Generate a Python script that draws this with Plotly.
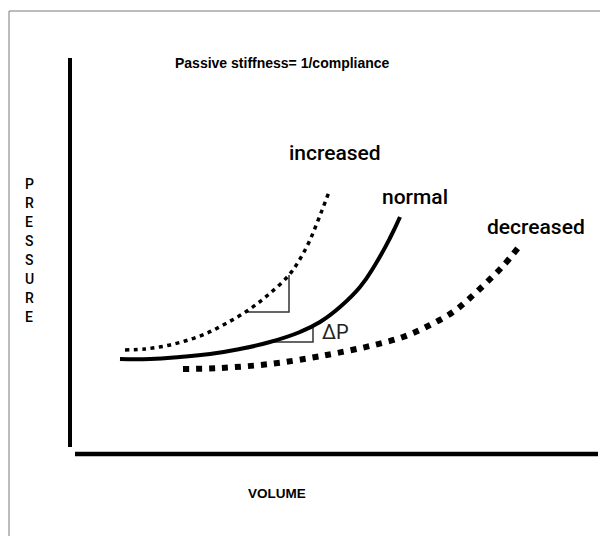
import plotly.graph_objects as go

# Curves: volume (x) and pressure (y), arbitrary units
normal_v = [120, 150, 180, 210, 240, 270, 300, 320, 340, 360, 375, 390, 400]
normal_p = [177, 177, 179, 182, 187, 194, 204, 214, 229, 249, 271, 298, 319]

increased_v = [125, 145, 165, 185, 205, 225, 247, 268, 289, 300, 310, 319, 329]
increased_p = [186, 187, 190, 195, 202, 212, 225, 241, 261, 277, 296, 318, 344]

decreased_v = [183, 220, 270, 310, 337, 370, 403, 430, 453, 470, 487, 503, 518]
decreased_p = [167, 168, 172, 178, 183, 190, 199, 211, 224, 238, 254, 270, 288]

# slope triangles
tri_inc_v = [247, 289, 289]
tri_inc_p = [224, 224, 261]
tri_norm_v = [270, 313, 313]
tri_norm_p = [194, 194, 212]

# drawn axes
yaxis_line_v = [70, 70]
yaxis_line_p = [478, 89]
xaxis_line_v = [75, 598]
xaxis_line_p = [82, 82]

# frame
frame_v = [9, 9, 608]
frame_p = [0, 525, 525]

curve_labels = ["increased", "normal", "decreased"]
curve_label_v = [335, 415, 536]
curve_label_p = [383, 339, 309]

title_text = "Passive stiffness= 1/compliance"
x_title = "VOLUME"
y_title = "PRESSURE"

fig = go.Figure()

fig.add_trace(go.Scatter(x=frame_v, y=frame_p, mode="lines",
                         line=dict(color="#7a7a7a", width=1), hoverinfo="skip"))
fig.add_trace(go.Scatter(x=yaxis_line_v, y=yaxis_line_p, mode="lines",
                         line=dict(color="black", width=4), hoverinfo="skip"))
fig.add_trace(go.Scatter(x=xaxis_line_v, y=xaxis_line_p, mode="lines",
                         line=dict(color="black", width=4.5), hoverinfo="skip"))

fig.add_trace(go.Scatter(x=tri_inc_v, y=tri_inc_p, mode="lines",
                         line=dict(color="#333333", width=1.5), hoverinfo="skip"))
fig.add_trace(go.Scatter(x=tri_norm_v, y=tri_norm_p, mode="lines",
                         line=dict(color="#333333", width=1.5), hoverinfo="skip"))

fig.add_trace(go.Scatter(x=normal_v, y=normal_p, mode="lines", name="normal",
                         line=dict(color="black", width=4, shape="spline", smoothing=1.3)))
fig.add_trace(go.Scatter(x=increased_v, y=increased_p, mode="lines", name="increased",
                         line=dict(color="black", width=3.5, shape="spline", dash="4px,4.5px")))
fig.add_trace(go.Scatter(x=decreased_v, y=decreased_p, mode="lines", name="decreased",
                         line=dict(color="black", width=6, shape="spline", dash="6px,7px")))

for txt, vx, py in zip(curve_labels, curve_label_v, curve_label_p):
    fig.add_annotation(x=vx, y=py, text=txt, showarrow=False, xanchor="center", yanchor="middle",
                       font=dict(family="Roboto", size=21, color="black", weight=500))

fig.add_annotation(x=320, y=204, text="ΔP", showarrow=False, xanchor="left", yanchor="middle",
                   font=dict(family="Roboto", size=20, color="#222222"))

fig.add_annotation(x=282, y=473, text=f"<b>{title_text}</b>", showarrow=False,
                   xanchor="center", yanchor="middle",
                   font=dict(family="Liberation Sans, Arial", size=14, color="black"))
fig.add_annotation(x=277, y=43, text=f"<b>{x_title}</b>", showarrow=False,
                   xanchor="center", yanchor="middle",
                   font=dict(family="Liberation Sans, Arial", size=13.5, color="black"))

letter_top = 352
letter_step = 19
for i, ch in enumerate(y_title):
    fig.add_annotation(x=29, y=letter_top - i * letter_step, text=ch, showarrow=False,
                       xanchor="center", yanchor="middle",
                       font=dict(family="Roboto", size=14, color="black", weight=500))

# the page body has an 8px margin, so the figure is 8px smaller and its
# axes start 8 units in, keeping the drawing where the reference has it
fig.update_layout(
    width=600, height=528,
    margin=dict(l=0, r=0, t=0, b=0),
    paper_bgcolor="white", plot_bgcolor="white",
    showlegend=False,
    xaxis=dict(range=[8, 608], visible=False, fixedrange=True),
    yaxis=dict(range=[0, 528], visible=False, fixedrange=True),
)

fig.write_html("out.html")
